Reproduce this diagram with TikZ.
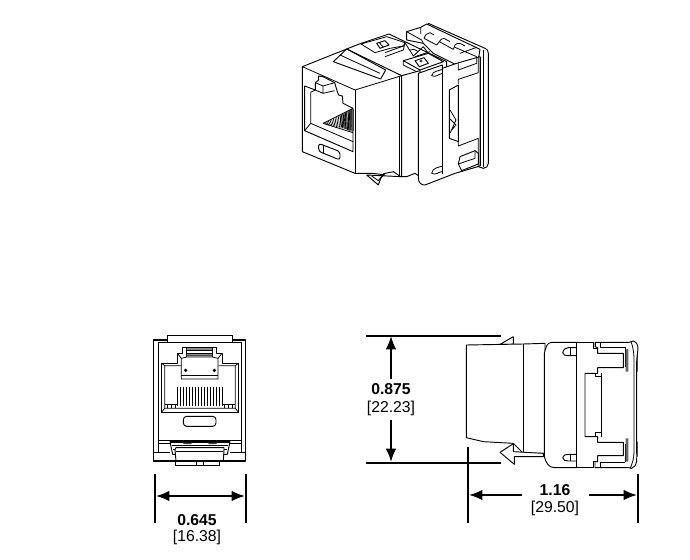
\documentclass[tikz,border=0pt]{standalone}
\usepackage{fontspec}
\setmainfont{Liberation Sans}
\usetikzlibrary{arrows.meta}
\tikzset{
 part/.style={draw=black,line width=0.7pt,line join=round,fill=white},
 thin part/.style={draw=black,line width=0.6pt,line join=round},
 dimline/.style={draw=black,line width=1.5pt},
 dimtip/.style={-{Latex[length=10pt,width=8pt]}},
 dimval/.style={font=\fontsize{11.8pt}{13pt}\selectfont\bfseries,inner sep=0pt},
 dimmm/.style={font=\fontsize{11.8pt}{13pt}\selectfont,inner sep=0pt}
}
\begin{document}
\begin{tikzpicture}[x=0.75pt,y=-0.75pt]
\useasboundingbox (0,0) rectangle (690,560);
\fill[white] (0,0) rectangle (690,560);
% ===== isometric view (zoom coordinates)
\begin{scope}[shift={(290,10)},x=0.25pt,y=-0.25pt]
% back frame
\path[part] (415,40) -- (585,115) to[out=-10,in=90] (595,130) -- (595,460) to[out=-90,in=0] (580,475) -- (565,470) -- (565,130) -- (415,60) -- cycle;
\draw[thin part] (580,120) -- (580,470);
% terminals on top
\path[part] (350,65) -- (392,52) -- (410,42) -- (570,118) -- (565,150) -- (510,170) -- (430,130) -- (400,100) -- (350,90) -- cycle;
\draw[thin part] (350,65) -- (395,90) -- (400,100) (392,52) -- (392,72)
 (402,85) to[out=90,in=200] (420,68) -- (432,75) (402,85) -- (440,105) -- (448,95) to[out=70,in=190] (462,85) -- (480,95)
 (448,95) -- (490,118) -- (495,105) to[out=70,in=190] (510,100) -- (525,108)
 (495,112) -- (560,140) (510,130) -- (560,112);
% rear housing top
\path[part] (170,117) -- (213,100) -- (297,72) -- (470,155) -- (470,175) -- (390,190) -- (335,197) -- (285,180) -- cycle;
\draw[thin part] (213,102) -- (290,80) -- (345,98) -- (340,108) -- (300,115) -- (255,128) -- cycle;
\path[part] (260,100) -- (285,92) -- (297,105) -- (270,115) -- cycle;
\draw[thin part] (268,98) -- (280,112) (285,140) -- (340,120) -- (345,98) -- (370,138) -- (400,110) -- (415,130) (285,128) -- (340,108);
\draw[thin part] (360,120) -- (372,118) -- (385,125) (375,140) -- (420,125);
% pad 2
\path[part] (340,152) -- (415,130) -- (460,155) -- (390,180) -- cycle;
\path[part] (375,152) -- (402,143) -- (415,160) -- (388,170) -- cycle;
\fill[black!75] (393,153) circle (5);
\draw[thin part] (340,152) -- (340,165) -- (390,190) -- (390,180);
% main body
\path[part] (37,170) -- (170,117) -- (335,197) -- (335,500) -- (245,490) -- (195,490) -- (37,425) -- cycle;
\draw[thin part] (37,170) -- (195,240) -- (335,197);
\draw[thin part] (195,240) -- (195,490);
% tab
\path[part] (130,155) -- (170,117) -- (287,180) -- (272,207) -- cycle;
\draw[thin part] (150,135) -- (270,190);
% opening
\path[part] (44,228) -- (76,240) -- (76,218) -- (86,210) -- (86,198) -- (99,200) -- (134,218) -- (142,245) -- (146,255) -- (157,258) -- (159,280) -- (189,295) -- (189,425) -- (44,362) -- cycle;
\draw[thin part] (62,247) -- (62,340) -- (189,395) (76,240) -- (99,250) -- (134,242) (76,218) -- (99,228) -- (134,218) (99,228) -- (99,250) (62,247) -- (76,240) (44,362) -- (62,340);
\draw[thin part] (99,340) -- (189,295);
\foreach \i in {0,...,17}{\draw[black,line width=0.5pt] ({105+\i*5},{338-\i*2.4}) -- ({112+\i*4.6},{344+\i*1.1});}
\foreach \i in {0,...,9}{\draw[black,line width=0.5pt] ({150+\i*4},{316-\i*2.3}) -- ({155+\i*3.5},{352+\i*1.5});}
\draw[thin part] (99,340) -- (189,368);
% slot
\draw[part,rounded corners=2pt] (86,400) -- (150,425) -- (150,450) -- (86,424) -- cycle;
\draw[thin part] (100,404) -- (100,430);
% latch below
\path[part] (230,495) -- (265,525) -- (272,505) -- (285,490) -- (310,485) -- (332,500) -- cycle;
\draw[thin part] (245,498) -- (265,512) -- (282,490);
% mid bands
\path[part] (335,197) -- (390,182) -- (390,500) -- (375,490) -- (350,500) -- (335,500) -- cycle;
\draw[thin part] (329,198) -- (329,500);
% front collar
\path[part] (385,190) -- (457,165) -- (457,175) -- (500,160) -- (570,140) -- (570,468) -- (495,490) -- (405,525) to[out=190,in=-90] (385,505) -- cycle;
\draw[thin part] (457,172) -- (457,492);
\draw[thin part] (458,178) -- (438,184) to[out=190,in=70] (425,197) to[out=-30,in=190] (458,190);
\draw[thin part] (458,468) -- (438,474) to[out=190,in=70] (425,490) to[out=-30,in=190] (458,484);
% collar clips
\draw[thin part] (505,160) -- (505,180) -- (560,160) -- (560,140);
\draw[thin part] (505,222) -- (505,208) -- (565,188) -- (565,140);
\draw[thin part] (505,395) -- (505,408) -- (565,385) -- (565,468);
\path[part] (510,440) -- (555,422) -- (565,430) -- (565,462) -- (515,482) -- (505,462) -- cycle;
\draw[thin part] (505,462) -- (555,445) -- (555,422);
% collar window
\path[part] (478,240) -- (505,225) -- (505,395) -- (478,385) -- cycle;
\draw[black,line width=1.1pt] (505,225) -- (505,395);
\draw[thin part] (480,300) to[out=-60,in=120] (498,330) (478,325) -- (498,345) -- (485,360) (498,330) -- (480,370);
\fill (570,140) rectangle (573,468);
\end{scope}
% ===== front view (zoom coordinates)
\begin{scope}[shift={(140,325)},x=0.25pt,y=-0.25pt]
\path[part,line width=1.1pt] (41,45) -- (317,45) -- (317,408) -- (41,408) -- cycle;
\path[part] (82,52) -- (82,30) -- (278,30) -- (278,52) -- cycle;
\draw[thin part] (54,52) -- (304,52) (54,52) -- (54,382) (304,52) -- (304,382) (41,382) -- (90,382) (270,382) -- (317,382);
\draw[thin part] (54,345) -- (304,345) (54,355) -- (304,355);
\path[part] (64,114) -- (112,114) -- (112,85) -- (128,85) -- (128,66) -- (228,66) -- (228,85) -- (246,85) -- (246,114) -- (296,114) -- (296,262) -- (64,262) -- cycle;
\draw[thin part] (74,122) -- (74,250) -- (286,250) -- (286,122) -- (236,122) (74,122) -- (124,122) (64,114) -- (74,122) (296,114) -- (286,122) (64,262) -- (74,250) (296,262) -- (286,250);
\draw[thin part] (74,238) -- (110,238) (250,238) -- (286,238);
\draw[thin part] (112,85) -- (124,100) -- (124,162) -- (234,162) -- (234,100) -- (246,85) (124,100) -- (140,96) -- (216,96) -- (234,100);
\draw[thin part] (140,66) -- (140,96) (216,66) -- (216,96) (140,75) -- (216,75) (140,85) -- (216,85) (124,150) -- (234,150);
\fill[black!70] (140,70) rectangle (216,74) (140,88) rectangle (216,94);
\fill (137,136) circle (5.5) (223,136) circle (5.5);
\foreach \x in {112,121,...,248}{\draw[black,line width=0.7pt] (\x,186) -- (\x,244);}
\foreach \x in {82,94,...,106}{\draw[black,line width=0.5pt] (\x,238) -- (\x,250);}
\foreach \x in {254,266,278}{\draw[black,line width=0.5pt] (\x,238) -- (\x,250);}
\draw[part,rounded corners=2.5pt] (130,274) rectangle (228,304);
\path[part] (90,350) -- (270,350) -- (262,388) -- (98,388) -- cycle;
\fill (90,348) rectangle (270,353);
\fill[black!75] (130,353) rectangle (155,357) (205,353) rectangle (230,357);
\draw[thin part] (95,362) -- (265,362) (100,372) -- (260,372);
\path[part] (105,374) -- (108,368) -- (252,368) -- (252,374) -- (250,408) -- (108,408) -- cycle;
\draw[thin part] (108,378) -- (250,378);
\draw[line width=1.1pt] (108,408) -- (250,408);
\draw[thin part] (107,422) -- (237,422) (107,408) -- (107,422) (168,408) -- (168,422) (190,408) -- (190,422) (237,408) -- (237,422);
\end{scope}
% ===== side view (zoom coordinates)
\begin{scope}[shift={(455,325)},x=0.25pt,y=-0.25pt]
\path[part] (135,58) -- (175,35) -- (175,58) -- cycle;
\path[part] (34,60) -- (205,57) -- (270,55) -- (270,385) -- (205,385) -- (175,355) -- (85,350) -- (34,338) -- cycle;
\draw[thin part] (205,57) -- (205,385);
\path[part] (135,382) -- (175,356) -- (175,380) -- (265,385) -- (265,395) -- (178,395) -- (178,418) -- cycle;
\path[part] (290,52) -- (365,52) -- (365,428) -- (298,428) to[out=180,in=-75] (268,395) -- (268,85) to[out=75,in=180] cycle;
\path[part] (365,52) -- (415,52) -- (415,70) -- (520,70) -- (520,410) -- (415,410) -- (415,428) -- (365,428) -- cycle;
\path[part] (420,52) -- (522,52) to[out=0,in=180] (535,48) to[out=-20,in=90] (545,110) -- (545,380) to[out=-90,in=20] (530,430) to[out=190,in=0] (520,428) -- (420,428) -- (420,410) -- (428,410) -- (428,392) -- (505,392) -- (505,352) -- (428,352) -- (428,335) -- (390,335) -- (390,145) -- (428,145) -- (428,128) -- (505,128) -- (505,85) -- (428,85) -- (428,68) -- (420,65) -- cycle;
\draw[thin part] (438,145) -- (438,335) (420,145) -- (420,155) -- (438,155) (420,322) -- (438,322) -- (438,332) (420,322) -- (420,335);
\draw[thin part] (420,52) -- (420,65) (436,55) -- (436,66) -- (510,66) (436,412) -- (510,412) (436,412) -- (436,425) (510,66) -- (510,125) (510,358) -- (510,412);
\fill[black!60] (512,72) rectangle (520,140) (512,340) rectangle (520,410);
\fill (546,90) rectangle (548,140) (546,350) rectangle (548,395);
\draw[thin part] (528,50) to[out=-70,in=90] (537,110) -- (537,380) to[out=-90,in=70] (526,430);
\path[part] (365,68) -- (340,68) to[out=180,in=90] (323,83) to[out=-90,in=180] (340,92) -- (365,92);
\draw[thin part] (345,70) -- (345,92);
\path[part] (365,388) -- (340,388) to[out=180,in=90] (323,398) to[out=-90,in=180] (340,408) -- (365,408);
\draw[thin part] (345,388) -- (345,408);
\draw[black,line width=0.9pt] (365,52) -- (365,428);
\end{scope}
% ===== dimensions
\coordinate (hA) at (366,335.5); \coordinate (hAe) at (501,335.5);
\coordinate (hB) at (366,462.5); \coordinate (hBe) at (501,462.5);
\draw[dimline] (hA) -- (hAe);
\draw[dimline] (hB) -- (hBe);
\node[dimval] (v875) at (391,389) {0.875};
\node[dimmm] (m875) at (391,408) {[22.23]};
\draw[dimline,dimtip] (v875.north) ++(0,-4) -- (391,336);
\draw[dimline,dimtip] (m875.south) ++(0,4) -- (391,462);
% width 0.645
\coordinate (wL) at (155,474); \coordinate (wLe) at (155,523);
\coordinate (wR) at (246,474); \coordinate (wRe) at (246,523);
\draw[dimline] (wL) -- (wLe);
\draw[dimline] (wR) -- (wRe);
\coordinate (wa) at (156,496); \coordinate (wb) at (245,496);
\draw[dimline,{Latex[length=10pt,width=8pt]}-{Latex[length=10pt,width=8pt]}] (wa) -- (wb);
\node[dimval] (v645) at (197,520) {0.645};
\node[dimmm] (m645) at (197,537) {[16.38]};
% length 1.16
\coordinate (lL) at (468,447); \coordinate (lLe) at (468,523);
\coordinate (lR) at (638,474); \coordinate (lRe) at (638,523);
\draw[dimline] (lL) -- (lLe);
\draw[dimline] (lR) -- (lRe);
\coordinate (la) at (469,495); \coordinate (lae) at (522,495);
\coordinate (lb) at (637,495); \coordinate (lbe) at (589,495);
\draw[dimline,dimtip] (lae) -- (la);
\draw[dimline,dimtip] (lbe) -- (lb);
\node[dimval] (v116) at (555,490) {1.16};
\node[dimmm] (m116) at (555,508) {[29.50]};
\end{tikzpicture}
\end{document}
